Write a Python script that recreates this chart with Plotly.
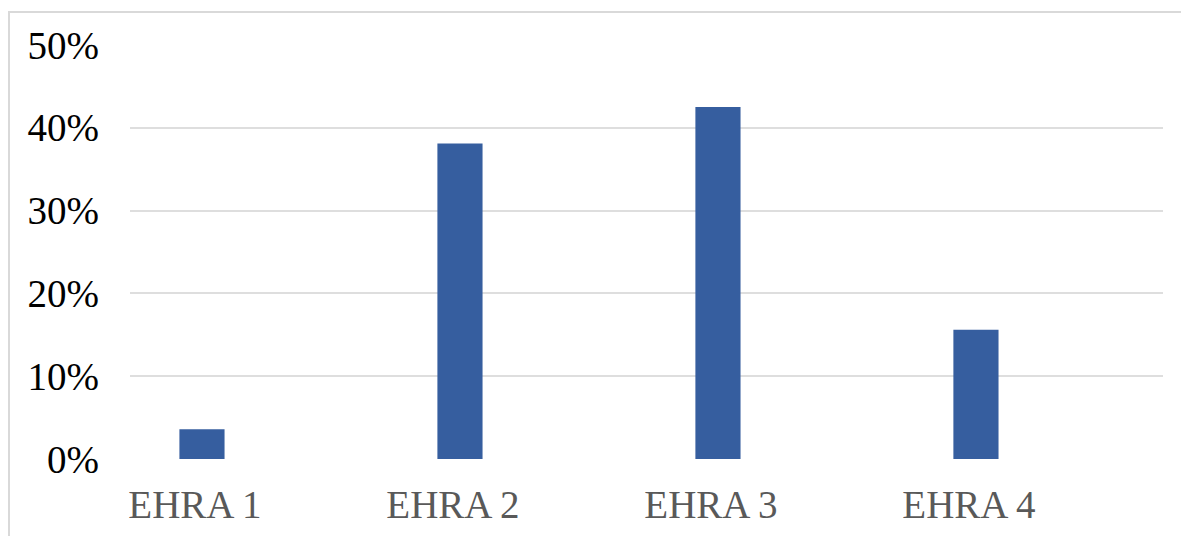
import plotly.graph_objects as go

categories = ["EHRA 1", "EHRA 2", "EHRA 3", "EHRA 4"]
values = [3.6, 38.1, 42.5, 15.6]
y_tick_vals = [0, 10, 20, 30, 40, 50]
y_tick_text = ["0%", "10%", "20%", "30%", "40%", "50%"]

fig = go.Figure()
fig.add_trace(go.Bar(
    x=categories, y=values,
    marker=dict(color="#365E9F", line=dict(width=0)),
    width=0.175,
))

fig.update_layout(
    width=1181, height=536,
    margin=dict(l=130, r=18, t=45, b=77),
    paper_bgcolor="white", plot_bgcolor="white",
    showlegend=False,
    font=dict(family="Liberation Serif, Times New Roman, serif", size=39, color="#000000"),
)
fig.update_xaxes(
    range=[-0.279, 3.725],
    showgrid=False, zeroline=False, showline=False,
    tickfont=dict(color="#595959", size=39),
    ticklabelstandoff=19,
    ticklabelshift=-7,
    automargin=False,
    fixedrange=True,
)
fig.update_yaxes(
    range=[0, 50], tickvals=y_tick_vals, ticktext=y_tick_text,
    showgrid=True, gridcolor="#dedede", gridwidth=2,
    zeroline=False, showline=False,
    tickfont=dict(color="#000000", size=39),
    ticklabelstandoff=30,
    automargin=False,
    fixedrange=True,
)
# outer chart border (partially visible at top/left)
fig.add_shape(type="rect", xref="paper", yref="paper",
              x0=(9 - 130) / 1033, x1=1.2, y0=-0.5, y1=(459 - 12) / 414,
              line=dict(color="#d9d9d9", width=2), fillcolor="rgba(0,0,0,0)", layer="below")

fig.write_html("out.html")
